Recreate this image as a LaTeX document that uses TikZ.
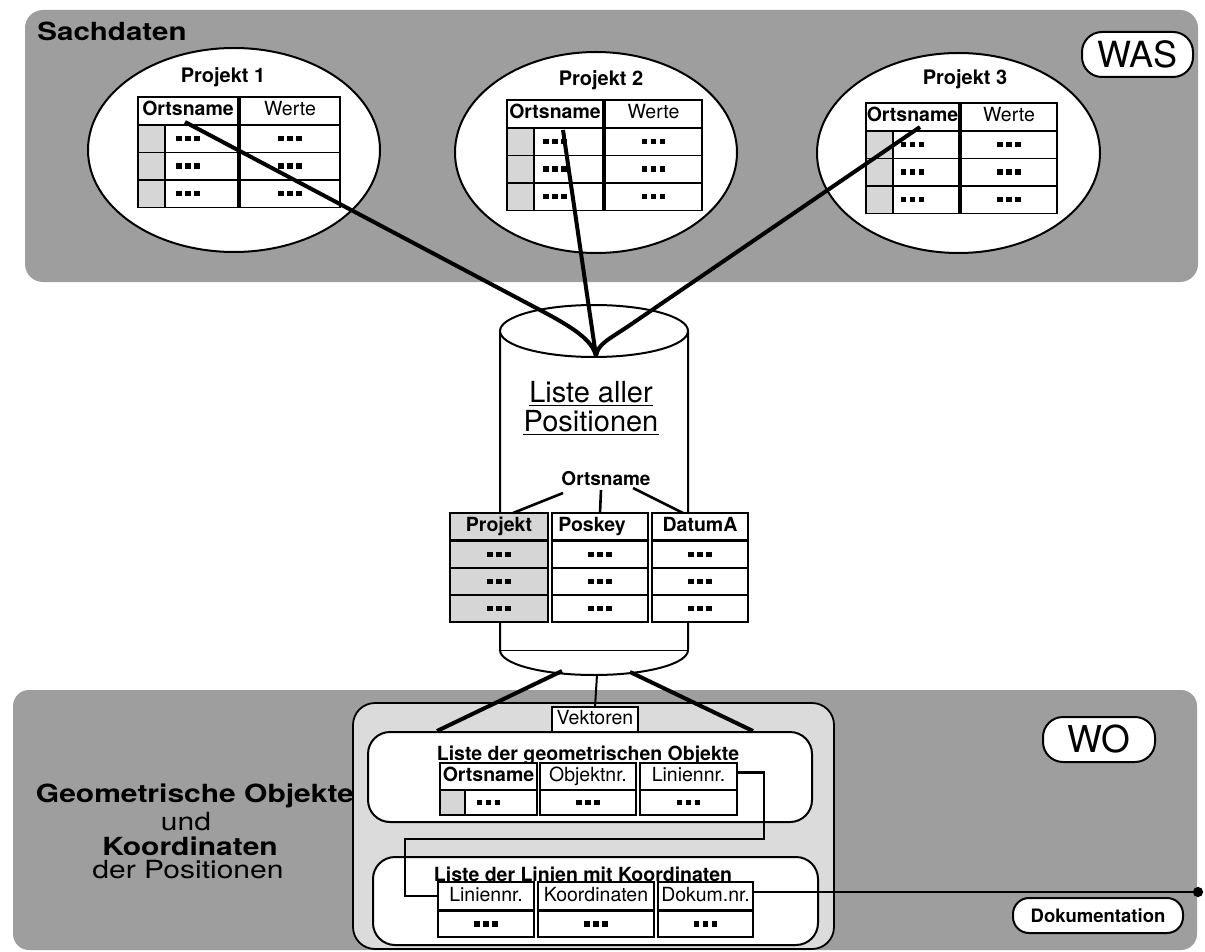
\documentclass[tikz,border=0pt]{standalone}
\usepackage{fontspec}
\setmainfont{TeX Gyre Heros}
\usepackage{graphicx}
\usetikzlibrary{shapes.geometric,arrows.meta}

\definecolor{bgdots}{gray}{0.62}
\definecolor{paledots}{gray}{0.86}
\definecolor{cellgray}{gray}{0.84}

% three small black squares standing for "and so on"
\newcommand\DotTrio{\raisebox{2.5pt}{\rule{5.5pt}{5.5pt}\hspace{3.5pt}\rule{5.5pt}{5.5pt}\hspace{3.5pt}\rule{5.5pt}{5.5pt}}}
\newcommand\SetFS[1]{\fontsize{#1}{#1}\selectfont}
% wide lettering of the area captions
\newcommand\Wide[1]{\scalebox{1.2}[1]{#1}}

% project table: #1 name prefix, #2 left, #3 top, #4 key column width, #5 value column width
\newcommand\ProjTab[5]{%
  \node[boldcell, minimum width=#4pt, minimum height=28pt] (#1k) at (#2,#3) {Ortsname};
  \node[cell, minimum width=#5pt, minimum height=28pt] (#1v) at (#2+#4+2,#3) {Werte};
  \foreach \r in {0,1,2}{%
    \node[cell, minimum width=#4pt, minimum height=27.5pt] (#1k\r) at (#2,#3+28+27.5*\r) {\DotTrio};
    \node[cell, fill=cellgray, minimum width=27pt, minimum height=27.5pt] (#1g\r) at (#2,#3+28+27.5*\r) {};
    \node[cell, minimum width=#5pt, minimum height=27.5pt] (#1v\r) at (#2+#4+2,#3+28+27.5*\r) {\DotTrio};
  }%
}

\begin{document}
\begin{tikzpicture}[x=1pt,y=-1pt,
  cell/.style={draw, line width=1.8pt, fill=white, inner sep=0pt, outer sep=0pt,
    anchor=north west, text height=14pt, text depth=4pt, font=\SetFS{19.5}},
  boldcell/.style={cell, font=\SetFS{19.5}\bfseries},
  pill/.style={draw, line width=2pt, fill=white, inner sep=0pt, rounded corners=#1},
  conn/.style={line width=4pt},
  link/.style={line width=2.6pt},
  fine/.style={line width=2pt},
  listbox/.style={draw, line width=2pt, fill=white, rounded corners=22pt, inner sep=0pt},
  oval/.style={ellipse, draw, line width=2pt, fill=white, inner sep=0pt},
  caption/.style={anchor=base, inner sep=0pt},
]
\fill[white] (0,0) rectangle (1205,952);
\useasboundingbox (0,0) rectangle (1205,952);

% shaded areas
\fill[bgdots, rounded corners=18pt] (25,10) rectangle (1198,282);
\fill[bgdots, rounded corners=16pt] (13,690) rectangle (1197,950);
\draw[fill=paledots, line width=1.8pt, rounded corners=22pt] (353,703) rectangle (834,949);

% projects
\node[oval, minimum width=292pt, minimum height=204pt] (e1) at (234,150) {};
\node[oval, minimum width=282pt, minimum height=201pt] (e2) at (596,152.5) {};
\node[oval, minimum width=283pt, minimum height=200pt] (e3) at (958.5,153) {};
\node[anchor=base, font=\SetFS{20}\bfseries] (n1) at (223,83) {Projekt 1};
\node[anchor=base, font=\SetFS{20}\bfseries] (n2) at (601,86) {Projekt 2};
\node[anchor=base, font=\SetFS{20}\bfseries] (n3) at (965,85) {Projekt 3};
\ProjTab{pa}{138}{97}{100}{100}
\ProjTab{pb}{507}{100}{96}{97}
\ProjTab{pc}{866}{103}{93}{96}

\node[pill=20pt, minimum width=111pt, minimum height=45pt, font=\SetFS{36}] (was) at (1137.5,54.5) {WAS};
\node[caption, font=\SetFS{25}\bfseries] (sach) at (112,41) {\scalebox{1.18}[1]{Sachdaten}};

% cylinder
\fill[white] (500,331) -- (500,650) .. controls (500,664) and (542,675) .. (594,675)
  .. controls (646,675) and (688,664) .. (688,650) -- (688,331) -- cycle;
\draw[fine] (500,331) -- (500,650) .. controls (500,664) and (542,675) .. (594,675)
  .. controls (646,675) and (688,664) .. (688,650) -- (688,331);
\draw[line width=1pt] (500,650) -- (688,650);
\draw[fine, fill=white] (594,331) ellipse [x radius=94pt, y radius=26pt];

\node[caption, font=\SetFS{29}] (lst1) at (591,402) {Liste aller};
\node[caption, font=\SetFS{29}] (lst2) at (591,431) {Positionen};
\draw[line width=1.6pt] ([yshift=-3.5pt]lst1.base west) -- ([yshift=-3.5pt]lst1.base east);
\draw[line width=1.6pt] ([yshift=-3.5pt]lst2.base west) -- ([yshift=-3.5pt]lst2.base east);
\node[anchor=base, font=\SetFS{19}\bfseries] (ortsC) at (606,485) {Ortsname};

\node[boldcell, fill=cellgray, minimum width=98pt, minimum height=27pt] (cP) at (450,513) {Projekt};
\node[boldcell, minimum width=96pt, minimum height=27pt] (cK) at (552,513) {Poskey\hspace*{16pt}};
\node[boldcell, minimum width=96pt, minimum height=27pt] (cD) at (652,513) {DatumA};
\foreach \r in {0,1,2}{%
  \node[cell, fill=cellgray, minimum width=98pt, minimum height=27pt] (cP\r) at (450,541+27*\r) {\DotTrio};
  \node[cell, minimum width=96pt, minimum height=27pt] (cK\r) at (552,541+27*\r) {\DotTrio};
  \node[cell, minimum width=96pt, minimum height=27pt] (cD\r) at (652,541+27*\r) {\DotTrio};
}
\draw[link] ([xshift=-43pt,yshift=-8pt]ortsC.base) -- ([xshift=-35pt]cP.north east);
\draw[link] ([xshift=-5pt,yshift=-5pt]ortsC.base) -- (cK.north);
\draw[link] ([xshift=27pt,yshift=-3pt]ortsC.base) -- ([xshift=31pt]cD.north west);

% geometry lists
\node[listbox, minimum width=444pt, minimum height=90pt] (list1) at (590,777) {};
\node[listbox, minimum width=445pt, minimum height=88pt] (list2) at (595.5,901) {};
\node[anchor=base, font=\SetFS{19.5}\bfseries] (t1) at (588,760) {Liste der geometrischen Objekte};
\node[anchor=base, font=\SetFS{19.5}\bfseries] (t2) at (583,881) {Liste der Linien mit Koordinaten};
\node[cell, anchor=center, line width=1.5pt, minimum width=86pt, minimum height=25pt] (vek) at (595,719.5) {Vektoren};

\node[boldcell, minimum width=97pt, minimum height=27pt] (la1) at (440,763) {Ortsname};
\node[cell, minimum width=96pt, minimum height=27pt] (la2) at (540,763) {Objektnr.};
\node[cell, minimum width=97pt, minimum height=27pt] (la3) at (640,763) {Liniennr.};
\node[cell, minimum width=97pt, minimum height=25pt] (lad1) at (440,790) {\DotTrio};
\node[cell, fill=cellgray, minimum width=25pt, minimum height=25pt] (lag) at (440,790) {};
\node[cell, minimum width=96pt, minimum height=25pt] (lad2) at (540,790) {\DotTrio};
\node[cell, minimum width=97pt, minimum height=25pt] (lad3) at (640,790) {\DotTrio};

\node[cell, minimum width=96pt, minimum height=28pt] (lb1) at (438,882) {Liniennr.};
\node[cell, minimum width=116pt, minimum height=28pt] (lb2) at (538,882) {Koordinaten};
\node[cell, minimum width=95pt, minimum height=28pt] (lb3) at (658,882) {Dokum.nr.};
\node[cell, minimum width=96pt, minimum height=26pt] (lbd1) at (438,911) {\DotTrio};
\node[cell, minimum width=116pt, minimum height=26pt] (lbd2) at (538,911) {\DotTrio};
\node[cell, minimum width=95pt, minimum height=26pt] (lbd3) at (658,911) {\DotTrio};

\draw[link] ([yshift=4pt]la3.east) -- ++(27,0) -- ++(0,66.5) -| ([xshift=-33pt]lb1.west) -- (lb1.west);
\coordinate (docend) at (1203,892);
\draw[link, -{Circle[length=10pt,width=10pt]}] ([yshift=4pt]lb3.east) -- (docend);

\node[pill=20pt, minimum width=112pt, minimum height=45pt, font=\SetFS{37}] (wo) at (1099,739.5) {WO};
\node[pill=16pt, minimum width=170pt, minimum height=35pt, font=\SetFS{18.5}\bfseries] (dok) at (1098,915.5) {Dokumentation};

\node[caption, font=\SetFS{25}\bfseries] (g1) at (195,802) {\Wide{Geometrische Objekte}};
\node[caption, font=\SetFS{25}] (g2) at (186,830) {\Wide{und}};
\node[caption, font=\SetFS{25}\bfseries] (g3) at (190,855) {\Wide{Koordinaten}};
\node[caption, font=\SetFS{25}] (g4) at (188,878) {\Wide{der Positionen}};

% links between cylinder and the lists
\coordinate (cbL) at (562,671);
\coordinate (cbM) at (597,675);
\coordinate (cbR) at (630,672);
\draw[conn] (cbL) -- ([xshift=70pt]list1.north west);
\draw[fine] (cbM) -- (vek.north);
\draw[conn] (cbR) -- ([xshift=-60pt]list1.north east);

% links from the projects into the cylinder
\coordinate (p1s) at (185,122);
\coordinate (p1k) at (540,310);
\coordinate (p2s) at (563,130);
\coordinate (p3s) at (920,127);
\coordinate (p3k) at (633,323);
\coordinate (ctop) at (596,356);
\draw[conn] (p1s) -- (p1k) .. controls (574,328) and (592,340) .. (ctop);
\draw[conn] (p2s) -- (ctop);
\draw[conn] (p3s) -- (p3k) .. controls (610,339) and (598,343) .. (ctop);
\end{tikzpicture}
\end{document}
